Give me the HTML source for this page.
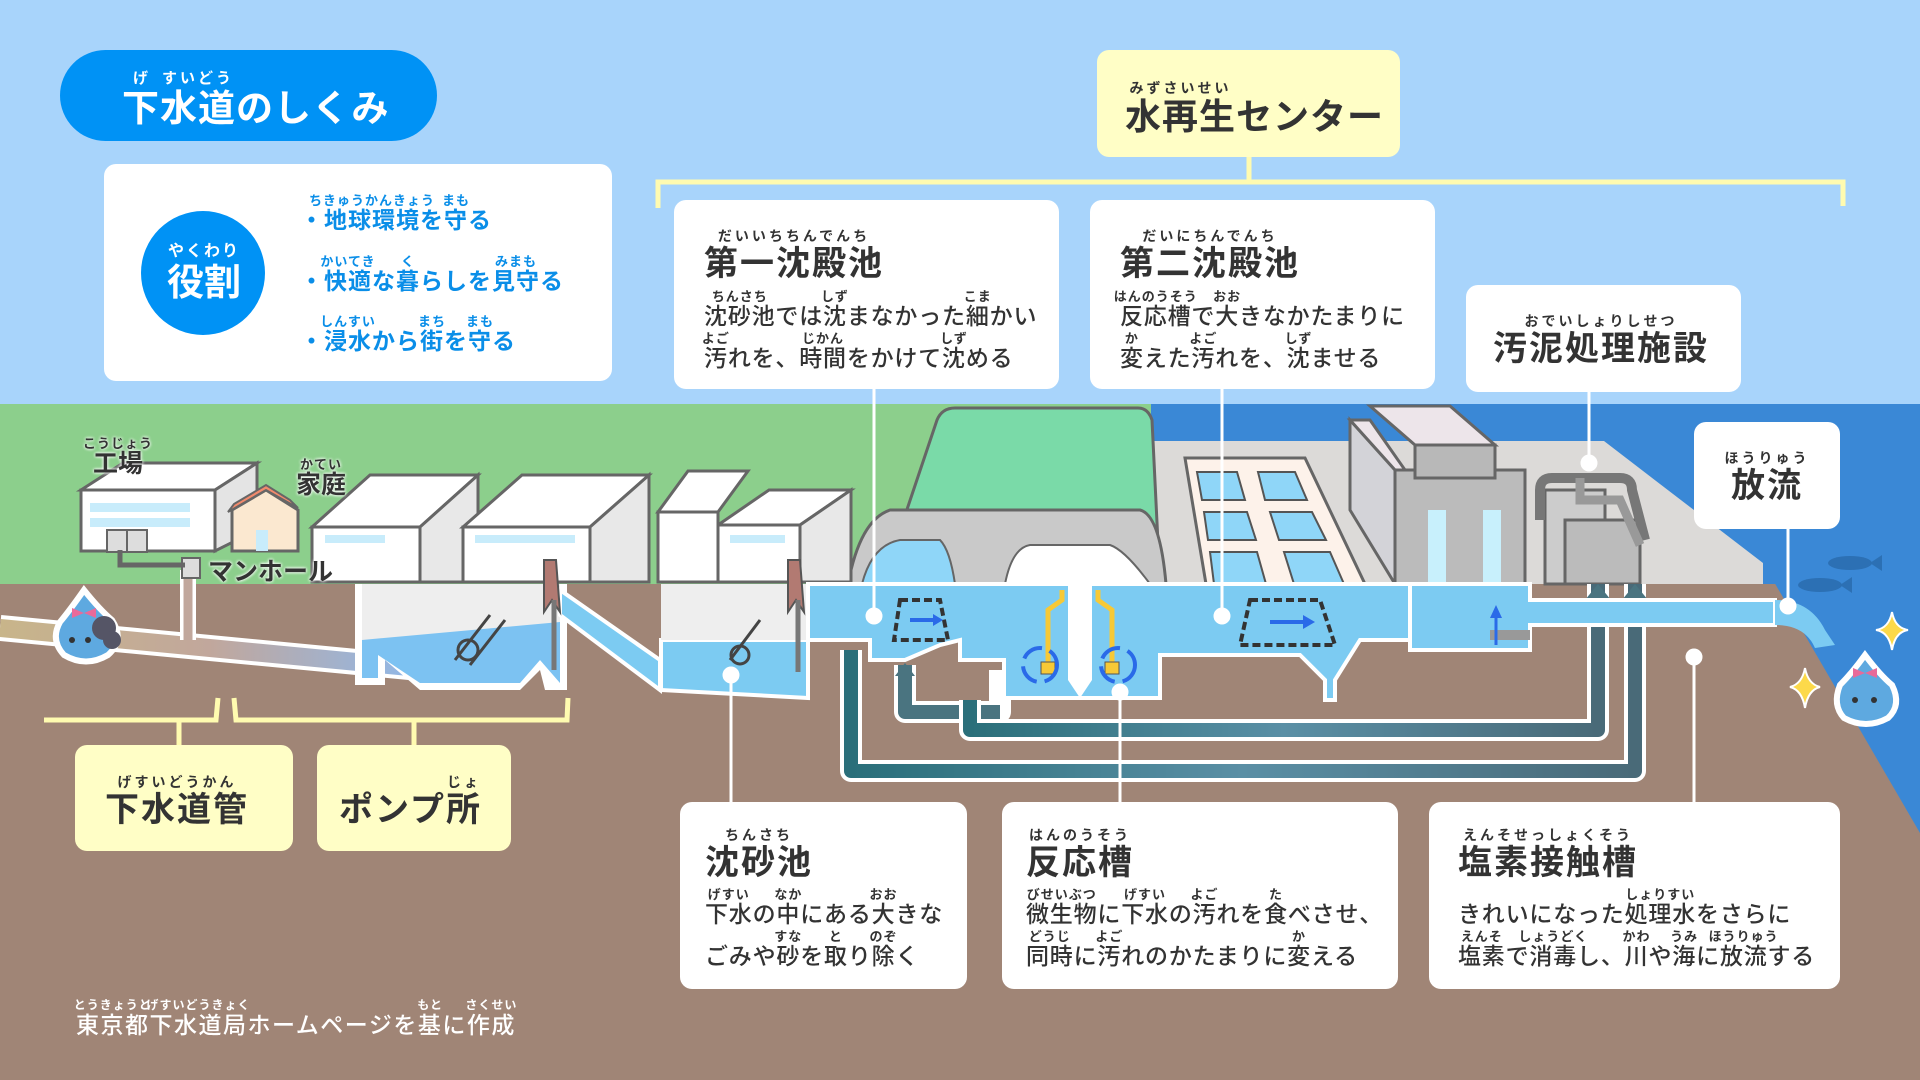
<!DOCTYPE html>
<html><head><meta charset="utf-8">
<style>
*{margin:0;padding:0;box-sizing:border-box}
body{width:1920px;height:1080px;overflow:hidden;position:relative;font-family:"Liberation Sans","Noto Sans CJK JP",sans-serif;font-weight:700;color:#333}
svg{position:absolute;left:0;top:0}
.box{position:absolute;background:#fff;border-radius:12px}
.ybox{position:absolute;background:#fffec6;border-radius:12px}
.t{position:absolute;white-space:nowrap;line-height:1}
.r{position:relative;display:inline-block}
.rt{position:absolute;left:50%;transform:translateX(-50%);top:-15px;font-size:13px;font-weight:700;white-space:nowrap;letter-spacing:1px;line-height:1}
.h{font-size:34px;letter-spacing:2px}
.h .rt{font-size:14px;top:-18px;letter-spacing:3px}
.b{font-size:23px;font-weight:500;letter-spacing:0.8px}
.blue{color:#0a8ee8;letter-spacing:1px}
.w .rt{color:#fff}
</style></head><body>
<svg width="1920" height="1080" viewBox="0 0 1920 1080">
<defs>
<linearGradient id="sew" x1="0" x2="1"><stop offset="0" stop-color="#c8b58a"/><stop offset="0.5" stop-color="#c1a79c"/><stop offset="1" stop-color="#8fb8ea"/></linearGradient>
<linearGradient id="pipe" x1="0" x2="1"><stop offset="0" stop-color="#2a6f7a"/><stop offset="0.5" stop-color="#5a8fa5"/><stop offset="1" stop-color="#496a78"/></linearGradient>
</defs>
<rect width="1920" height="1080" fill="#a8d4fb"/>
<rect y="404" width="1151" height="180" fill="#8ccf8c"/>
<rect x="1151" y="404" width="769" height="180" fill="#3a88d6"/>
<rect y="584" width="1920" height="496" fill="#a08576"/>
<polygon points="1763,563 1920,833 1920,563" fill="#3a88d6"/>
<ellipse cx="1850" cy="563" rx="22" ry="7" fill="#2c70b4"/><polygon points="1870,563 1882,555 1882,571" fill="#2c70b4"/>
<ellipse cx="1820" cy="585" rx="22" ry="7" fill="#2c70b4"/><polygon points="1840,585 1852,577 1852,593" fill="#2c70b4"/>
<polygon points="1151,441 1604,441 1763,563 1763,584 1151,584" fill="#dcdad8"/>
<path d="M882,584 L937,420 Q942,408 955,408 L1138,408 Q1148,408 1152,420 L1160,584 Z" fill="#7adaa8" stroke="#666" stroke-width="3"/>
<path d="M848,584 Q860,520 890,510 L1140,510 Q1160,515 1166,584 Z" fill="#c9c9c9" stroke="#666" stroke-width="3"/>
<path d="M862,584 Q872,545 900,540 L940,540 Q950,550 955,584 Z" fill="#8fd6f8" stroke="#666" stroke-width="2"/>
<path d="M1005,584 Q1012,548 1030,545 L1110,545 Q1125,550 1150,584 Z" fill="#fff" stroke="#666" stroke-width="2"/>
<polygon points="1185,458 1305,458 1365,584 1206,584" fill="#fdf2ea" stroke="#666" stroke-width="3"/>
<g fill="#8fd6f8" stroke="#555" stroke-width="2">
<polygon points="1197,472 1237,472 1245,500 1202,500"/><polygon points="1258,472 1295,472 1307,500 1265,500"/>
<polygon points="1204,512 1247,512 1256,540 1208,540"/><polygon points="1270,512 1312,512 1326,540 1279,540"/>
<polygon points="1210,552 1257,552 1266,584 1214,584"/><polygon points="1284,552 1330,552 1344,584 1294,584"/>
</g>
<polygon points="1350,420 1350,510 1395,584 1395,470 1350,420" fill="#d3d3d8" stroke="#666" stroke-width="3"/>
<rect x="1395" y="470" width="130" height="114" fill="#bbb" stroke="#666" stroke-width="3"/>
<polygon points="1350,420 1370,420 1405,470 1525,470 1525,470 1395,470" fill="#ede5ea" stroke="#666" stroke-width="3"/>
<polygon points="1370,406 1450,406 1495,445 1415,445" fill="#ede5ea" stroke="#666" stroke-width="3"/>
<rect x="1415" y="445" width="80" height="33" fill="#b8b8b8" stroke="#666" stroke-width="3"/>
<rect x="1428" y="510" width="18" height="74" fill="#c8f0fc"/><rect x="1483" y="510" width="18" height="74" fill="#c8f0fc"/>
<rect x="1545" y="490" width="60" height="94" fill="#ccc" stroke="#666" stroke-width="3"/>
<rect x="1565" y="520" width="75" height="64" fill="#bbb" stroke="#666" stroke-width="3"/>
<path d="M1540,520 L1540,490 Q1540,478 1552,478 L1620,478 Q1632,478 1632,490 L1645,540" fill="none" stroke="#777" stroke-width="10"/>
<path d="M1580,478 L1580,500 L1620,500 L1640,545" fill="none" stroke="#999" stroke-width="9"/>
<polygon points="81,490 215,490 257,463 123,463" fill="#fff" stroke="#666" stroke-width="3"/>
<rect x="81" y="490" width="134" height="61" fill="#fff" stroke="#666" stroke-width="3"/>
<polygon points="215,490 257,463 257,530 215,551" fill="#e4e4e4" stroke="#666" stroke-width="3"/>
<rect x="90" y="503" width="100" height="9" fill="#c8ecfb"/><rect x="90" y="518" width="100" height="9" fill="#c8ecfb"/>
<rect x="107" y="530" width="20" height="22" fill="#ddd" stroke="#666" stroke-width="2"/><rect x="127" y="530" width="20" height="22" fill="#ddd" stroke="#666" stroke-width="2"/>
<polygon points="232,510 266,490 298,510 298,551 232,551" fill="#fbe8d0" stroke="#666" stroke-width="3"/>
<polygon points="228,512 266,490 298,508 290,500 266,485 234,504" fill="#f28a6c" stroke="#666" stroke-width="2"/>
<rect x="256" y="530" width="12" height="21" fill="#c8ecfb"/>
<g stroke="#666" stroke-width="3">
<polygon points="312,527 420,527 478,475 370,475" fill="#fff"/><rect x="312" y="527" width="108" height="55" fill="#fff"/><polygon points="420,527 478,475 478,582 420,582" fill="#e8e8e8"/>
<polygon points="463,527 590,527 649,475 522,475" fill="#fff"/><rect x="463" y="527" width="127" height="55" fill="#fff"/><polygon points="590,527 649,475 649,582 590,582" fill="#e8e8e8"/>
<polygon points="658,512 718,512 748,471 688,471" fill="#fff"/><polygon points="718,525 800,525 851,490 769,490" fill="#fff"/><rect x="658" y="512" width="60" height="70" fill="#fff"/><rect x="718" y="525" width="82" height="57" fill="#fff"/><polygon points="800,525 851,490 851,582 800,582" fill="#e8e8e8"/>
</g>
<rect x="325" y="535" width="60" height="8" fill="#c8ecfb"/><rect x="475" y="535" width="100" height="8" fill="#c8ecfb"/><rect x="730" y="535" width="55" height="8" fill="#c8ecfb"/>
<line x1="0" y1="628" x2="420" y2="668" stroke="#fff" stroke-width="26"/>
<line x1="0" y1="628" x2="420" y2="668" stroke="url(#sew)" stroke-width="18"/>
<line x1="188" y1="570" x2="188" y2="640" stroke="#fff" stroke-width="16"/>
<line x1="188" y1="570" x2="188" y2="640" stroke="#c1a79c" stroke-width="9"/>
<rect x="182" y="558" width="18" height="20" fill="#ddd" stroke="#666" stroke-width="2"/>
<path d="M120,550 L120,565 L185,565" fill="none" stroke="#666" stroke-width="5"/>
<path d="M355,584 L355,685 L385,685 L385,660 L420,690 L520,690 L540,670 L545,690 L567,690 L567,584 Z" fill="#fff"/>
<path d="M362,584 L362,678 L378,678 L378,655 L420,683 L520,683 L540,660 L560,683 L560,584 Z" fill="#eeeeee"/>
<path d="M362,640 L560,622 L560,683 L540,660 L520,683 L420,683 L378,655 L378,678 L362,678 Z" fill="#7cc2f2"/>
<g stroke="#444" stroke-width="3" fill="none"><line x1="455" y1="660" x2="490" y2="615"/><line x1="470" y1="665" x2="505" y2="620"/><circle cx="468" cy="650" r="10"/></g>
<polygon points="560,590 660,660 660,690 560,615" fill="#7ccbf2" stroke="#fff" stroke-width="4"/>
<path d="M661,640 L808,640 L808,698 L661,690 Z" fill="#7ccbf2" stroke="#fff" stroke-width="4"/>
<path d="M661,584 L808,584 L808,640 L661,640 Z" fill="#eee"/>
<g stroke="#444" stroke-width="3" fill="none"><line x1="730" y1="660" x2="760" y2="620"/><circle cx="740" cy="655" r="9"/></g>
<polygon points="544,560 556,560 560,612 552,600 544,612" fill="#b27a72" stroke="#555" stroke-width="2"/>
<line x1="554" y1="600" x2="554" y2="670" stroke="#777" stroke-width="5"/>
<polygon points="788,560 800,560 804,612 796,600 788,612" fill="#b27a72" stroke="#555" stroke-width="2"/>
<line x1="798" y1="600" x2="798" y2="672" stroke="#777" stroke-width="5"/>
<g fill="none" stroke-linejoin="round">
<path d="M851,650 L851,771 L1635,771 L1635,584" stroke="#fff" stroke-width="22"/>
<path d="M851,650 L851,771 L1635,771 L1635,584" stroke="url(#pipe)" stroke-width="14"/>
<path d="M905,665 L905,712 L1000,712 L1000,670" stroke="#fff" stroke-width="22"/>
<path d="M905,665 L905,712 L1000,712" stroke="#4a7480" stroke-width="14"/>
<path d="M970,700 L970,730 L1598,730 L1598,584" stroke="#fff" stroke-width="22"/>
<path d="M970,700 L970,730 L1598,730 L1598,584" stroke="url(#pipe)" stroke-width="14"/>
</g>
<polygon points="895,676 905,663 915,676" fill="#4a7480"/>
<polygon points="1585,600 1598,584 1611,600" fill="#4a7480"/><polygon points="1622,600 1635,584 1648,600" fill="#4a7480"/>
<g fill="#7ccbf2" stroke="#fff" stroke-width="4">
<path d="M808,584 L1410,584 L1410,640 L1360,640 L1335,680 L1335,700 L1325,700 L1325,680 L1300,655 L1160,655 L1160,698 L1004,698 L1004,660 L960,660 L960,640 L940,645 L905,660 L870,660 L870,640 L808,640 Z"/>
<path d="M1410,584 L1530,584 L1530,600 L1775,600 L1775,625 L1530,625 L1530,650 L1410,650 Z"/>
</g>
<rect x="1490" y="630" width="40" height="10" fill="#999"/>
<line x1="1496" y1="645" x2="1496" y2="615" stroke="#2a6ae8" stroke-width="3"/><polygon points="1490,618 1496,605 1502,618" fill="#2a6ae8"/>
<path d="M1775,600 Q1810,600 1825,630 L1835,645 L1815,648 Q1805,625 1775,625 Z" fill="#7ccbf2"/>
<path d="M1068,584 L1092,584 L1092,680 L1080,698 L1068,680 Z" fill="#fff"/>
<path d="M1062,590 L1062,600 L1048,610 L1048,665" fill="none" stroke="#f7c936" stroke-width="5"/>
<path d="M1098,590 L1098,600 L1112,610 L1112,665" fill="none" stroke="#f7c936" stroke-width="5"/>
<rect x="1041" y="662" width="14" height="12" fill="#f7c936" stroke="#555"/><rect x="1105" y="662" width="14" height="12" fill="#f7c936" stroke="#555"/>
<g fill="none" stroke="#2a6ae8" stroke-width="4"><circle cx="1040" cy="665" r="17" stroke-dasharray="22 8"/><circle cx="1118" cy="665" r="17" stroke-dasharray="22 8"/></g>
<path d="M900,600 L940,600 L948,640 L894,640 Z" fill="none" stroke="#333" stroke-width="4" stroke-dasharray="8 4"/>
<line x1="910" y1="620" x2="935" y2="620" stroke="#2a6ae8" stroke-width="4"/><polygon points="933,614 943,620 933,626" fill="#2a6ae8"/>
<path d="M1250,600 L1320,600 L1335,645 L1240,645 Z" fill="none" stroke="#333" stroke-width="4" stroke-dasharray="8 4"/>
<line x1="1270" y1="622" x2="1305" y2="622" stroke="#2a6ae8" stroke-width="4"/><polygon points="1303,615 1315,622 1303,629" fill="#2a6ae8"/>
<g fill="none" stroke="#fffbb0" stroke-width="5">
<path d="M658,208 L658,182 L1843,182 L1843,206"/><line x1="1249" y1="157" x2="1249" y2="182"/>
<path d="M44,720 L216,720 L218,698"/><path d="M234,698 L236,720 L567,720 L568,698"/>
<line x1="179" y1="720" x2="179" y2="745"/><line x1="414" y1="720" x2="414" y2="745"/>
</g>
<g stroke="#fff" stroke-width="3" fill="#fff">
<line x1="874" y1="389" x2="874" y2="616"/><circle cx="874" cy="616" r="7"/>
<line x1="1222" y1="389" x2="1222" y2="616"/><circle cx="1222" cy="616" r="7"/>
<line x1="1589" y1="392" x2="1589" y2="463"/><circle cx="1589" cy="463" r="7"/>
<line x1="1788" y1="529" x2="1788" y2="606"/><circle cx="1788" cy="606" r="7"/>
<line x1="731" y1="675" x2="731" y2="802"/><circle cx="731" cy="675" r="7"/>
<line x1="1120" y1="692" x2="1120" y2="802"/><circle cx="1120" cy="692" r="7"/>
<line x1="1694" y1="657" x2="1694" y2="802"/><circle cx="1694" cy="657" r="7"/>
</g>
<g stroke="#fff" stroke-width="6">
<path d="M84,590 Q100,610 112,620 Q125,640 108,655 Q86,668 64,655 Q50,640 60,622 Q70,610 84,590 Z" fill="#5ea9e0"/>
<path d="M1865,655 Q1880,675 1892,685 Q1902,705 1888,718 Q1866,730 1844,718 Q1832,705 1840,685 Q1852,673 1865,655 Z" fill="#5ea9e0"/>
</g>
<circle cx="104" cy="628" r="12" fill="#556" /><circle cx="112" cy="640" r="9" fill="#556"/>
<path d="M72,608 L84,613 L72,618 Z M96,608 L84,613 L96,618 Z" fill="#e86a9a"/>
<path d="M1853,668 L1865,673 L1853,678 Z M1877,668 L1865,673 L1877,678 Z" fill="#e86a9a"/>
<circle cx="72" cy="640" r="3" fill="#333"/><circle cx="88" cy="640" r="3" fill="#333"/>
<circle cx="1855" cy="700" r="3" fill="#333"/><circle cx="1874" cy="700" r="3" fill="#333"/>
<path d="M1892,612 Q1895,628 1908,630 Q1895,632 1892,650 Q1889,632 1876,630 Q1889,628 1892,612 Z" fill="#fcd94a" stroke="#fff" stroke-width="2"/>
<path d="M1805,668 Q1808,684 1820,687 Q1808,690 1805,708 Q1802,690 1790,687 Q1802,684 1805,668 Z" fill="#fcd94a" stroke="#fff" stroke-width="2"/>
</svg>

<div style="position:absolute;left:60px;top:50px;width:377px;height:91px;border-radius:46px;background:#0092f5"></div>
<div class="t w" style="left:122px;top:90px;font-size:37px;color:#fff;letter-spacing:1px"><span class="r">下<span class="rt" style="font-size:15px;top:-19px">げ</span></span><span class="r">水道<span class="rt" style="font-size:15px;top:-19px;letter-spacing:3px">すいどう</span></span>のしくみ</div>

<div class="box" style="left:104px;top:164px;width:508px;height:217px"></div>
<div style="position:absolute;left:141px;top:211px;width:124px;height:124px;border-radius:50%;background:#0092f5"></div>
<div class="t w" style="left:167px;top:264px;font-size:37px;color:#fff"><span class="r">役割<span class="rt" style="font-size:16px;top:-20px;letter-spacing:2px">やくわり</span></span></div>
<div class="t blue" style="left:300px;top:209px;font-size:23px">・<span class="r">地球環境<span class="rt">ちきゅうかんきょう</span></span>を<span class="r">守<span class="rt">まも</span></span>る</div>
<div class="t blue" style="left:300px;top:270px;font-size:23px">・<span class="r">快適<span class="rt">かいてき</span></span>な<span class="r">暮<span class="rt">く</span></span>らしを<span class="r">見守<span class="rt">みまも</span></span>る</div>
<div class="t blue" style="left:300px;top:330px;font-size:23px">・<span class="r">浸水<span class="rt">しんすい</span></span>から<span class="r">街<span class="rt">まち</span></span>を<span class="r">守<span class="rt">まも</span></span>る</div>

<div class="ybox" style="left:1097px;top:50px;width:303px;height:107px"></div>
<div class="t h" style="left:1125px;top:99px;font-size:36px;letter-spacing:1px"><span class="r">水再生<span class="rt">みずさいせい</span></span>センター</div>

<div class="box" style="left:674px;top:200px;width:385px;height:189px"></div>
<div class="t h" style="left:704px;top:247px"><span class="r">第一沈殿池<span class="rt">だいいちちんでんち</span></span></div>
<div class="t b" style="left:704px;top:305px"><span class="r">沈砂池<span class="rt">ちんさち</span></span>では<span class="r">沈<span class="rt">しず</span></span>まなかった<span class="r">細<span class="rt">こま</span></span>かい</div>
<div class="t b" style="left:704px;top:347px"><span class="r">汚<span class="rt">よご</span></span>れを、<span class="r">時間<span class="rt">じかん</span></span>をかけて<span class="r">沈<span class="rt">しず</span></span>める</div>

<div class="box" style="left:1090px;top:200px;width:345px;height:189px"></div>
<div class="t h" style="left:1120px;top:247px"><span class="r">第二沈殿池<span class="rt">だいにちんでんち</span></span></div>
<div class="t b" style="left:1120px;top:305px"><span class="r">反応槽<span class="rt">はんのうそう</span></span>で<span class="r">大<span class="rt">おお</span></span>きなかたまりに</div>
<div class="t b" style="left:1120px;top:347px"><span class="r">変<span class="rt">か</span></span>えた<span class="r">汚<span class="rt">よご</span></span>れを、<span class="r">沈<span class="rt">しず</span></span>ませる</div>

<div class="box" style="left:1466px;top:285px;width:275px;height:107px"></div>
<div class="t h" style="left:1493px;top:332px"><span class="r">汚泥処理施設<span class="rt">おでいしょりしせつ</span></span></div>

<div class="box" style="left:1694px;top:422px;width:146px;height:107px"></div>
<div class="t h" style="left:1731px;top:469px"><span class="r">放流<span class="rt">ほうりゅう</span></span></div>

<div class="ybox" style="left:75px;top:745px;width:218px;height:106px"></div>
<div class="t h" style="left:105px;top:793px"><span class="r">下水道管<span class="rt">げすいどうかん</span></span></div>
<div class="ybox" style="left:317px;top:745px;width:194px;height:106px"></div>
<div class="t h" style="left:339px;top:793px">ポンプ<span class="r">所<span class="rt">じょ</span></span></div>

<div class="box" style="left:680px;top:802px;width:287px;height:187px"></div>
<div class="t h" style="left:705px;top:846px"><span class="r">沈砂池<span class="rt">ちんさち</span></span></div>
<div class="t b" style="left:705px;top:903px"><span class="r">下水<span class="rt">げすい</span></span>の<span class="r">中<span class="rt">なか</span></span>にある<span class="r">大<span class="rt">おお</span></span>きな</div>
<div class="t b" style="left:705px;top:945px">ごみや<span class="r">砂<span class="rt">すな</span></span>を<span class="r">取<span class="rt">と</span></span>り<span class="r">除<span class="rt">のぞ</span></span>く</div>

<div class="box" style="left:1002px;top:802px;width:396px;height:187px"></div>
<div class="t h" style="left:1026px;top:846px"><span class="r">反応槽<span class="rt">はんのうそう</span></span></div>
<div class="t b" style="left:1026px;top:903px"><span class="r">微生物<span class="rt">びせいぶつ</span></span>に<span class="r">下水<span class="rt">げすい</span></span>の<span class="r">汚<span class="rt">よご</span></span>れを<span class="r">食<span class="rt">た</span></span>べさせ、</div>
<div class="t b" style="left:1026px;top:945px"><span class="r">同時<span class="rt">どうじ</span></span>に<span class="r">汚<span class="rt">よご</span></span>れのかたまりに<span class="r">変<span class="rt">か</span></span>える</div>

<div class="box" style="left:1429px;top:802px;width:411px;height:187px"></div>
<div class="t h" style="left:1458px;top:846px"><span class="r">塩素接触槽<span class="rt">えんそせっしょくそう</span></span></div>
<div class="t b" style="left:1458px;top:903px">きれいになった<span class="r">処理水<span class="rt">しょりすい</span></span>をさらに</div>
<div class="t b" style="left:1458px;top:945px"><span class="r">塩素<span class="rt">えんそ</span></span>で<span class="r">消毒<span class="rt">しょうどく</span></span>し、<span class="r">川<span class="rt">かわ</span></span>や<span class="r">海<span class="rt">うみ</span></span>に<span class="r">放流<span class="rt">ほうりゅう</span></span>する</div>

<div class="t" style="left:93px;top:452px;font-size:25px;text-shadow:0 0 3px #fff,0 0 3px #fff"><span class="r">工場<span class="rt">こうじょう</span></span></div>
<div class="t" style="left:296px;top:473px;font-size:25px;text-shadow:0 0 3px #fff,0 0 3px #fff"><span class="r">家庭<span class="rt">かてい</span></span></div>
<div class="t" style="left:208px;top:560px;font-size:25px;text-shadow:0 0 3px #fff,0 0 3px #fff">マンホール</div>

<div class="t w" style="left:76px;top:1014px;font-size:23px;font-weight:500;color:#fff;letter-spacing:1.5px"><span class="r">東京都<span class="rt" style="font-size:12px">とうきょうと</span></span><span class="r">下水道局<span class="rt" style="font-size:12px">げすいどうきょく</span></span>ホームページを<span class="r">基<span class="rt" style="font-size:12px">もと</span></span>に<span class="r">作成<span class="rt" style="font-size:12px">さくせい</span></span></div>
</body></html>
